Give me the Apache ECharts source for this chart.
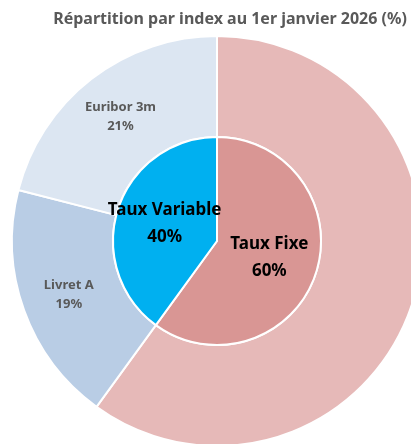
<!DOCTYPE html>
<html>
<head>
<meta charset="utf-8">
<script src="https://cdn.jsdelivr.net/npm/echarts@6/dist/echarts.min.js"></script>
<style>
  html, body { margin: 0; padding: 0; background: #fff; }
  #main { width: 411px; height: 444px; }
</style>
</head>
<body>
<div id="main"></div>
<script>
// anneau extérieur : par index
var outerNames = ['Taux Fixe', 'Livret A', 'Euribor 3m']
var outerValues = [60, 19, 21]
var outerColors = ['#E6B9B8', '#B9CDE5', '#DCE6F2']
// disque intérieur : fixe / variable
var innerNames = ['Taux Fixe', 'Taux Variable']
var innerValues = [60, 40]
var innerColors = ['#D99694', '#00B0F0']

var chart = echarts.init(document.getElementById('main'))

var outerData = []
for (var i = 0; i < outerNames.length; i++) {
  outerData.push({
    name: outerNames[i],
    value: outerValues[i],
    itemStyle: { color: outerColors[i] },
    label: { show: i !== 0 }
  })
}
var innerData = []
for (var j = 0; j < innerNames.length; j++) {
  innerData.push({
    name: innerNames[j],
    value: innerValues[j],
    itemStyle: { color: innerColors[j] },
    label: { padding: j === 1 ? [10, 0, 0, 0] : 0 }
  })
}

var font = '"Noto Sans", sans-serif'

chart.setOption({
  animation: false,
  title: {
    text: 'Répartition par index au 1er janvier 2026 (%)',
    left: 225,
    textAlign: 'center',
    top: 6,
    textStyle: { color: '#595959', fontSize: 16, fontWeight: 'bold', fontFamily: font }
  },
  series: [
    {
      type: 'pie',
      center: [217, 241],
      radius: [104, 205],
      startAngle: 90,
      clockwise: true,
      silent: true,
      itemStyle: { borderColor: '#fff', borderWidth: 2 },
      label: {
        position: 'inside',
        formatter: '{b}\n{c}%',
        color: '#595959',
        fontSize: 13,
        fontWeight: 'bold',
        fontFamily: font,
        lineHeight: 19,
        padding: [10, 0, 0, 0]
      },
      labelLine: { show: false },
      data: outerData
    },
    {
      type: 'pie',
      center: [217, 241],
      radius: [0, 104],
      startAngle: 90,
      clockwise: true,
      silent: true,
      itemStyle: { borderColor: '#fff', borderWidth: 2 },
      label: {
        position: 'inside',
        formatter: '{b}\n{c}%',
        color: '#000',
        fontSize: 17,
        fontWeight: 'bold',
        fontFamily: font,
        lineHeight: 27
      },
      labelLine: { show: false },
      data: innerData
    }
  ]
})
</script>
</body>
</html>
